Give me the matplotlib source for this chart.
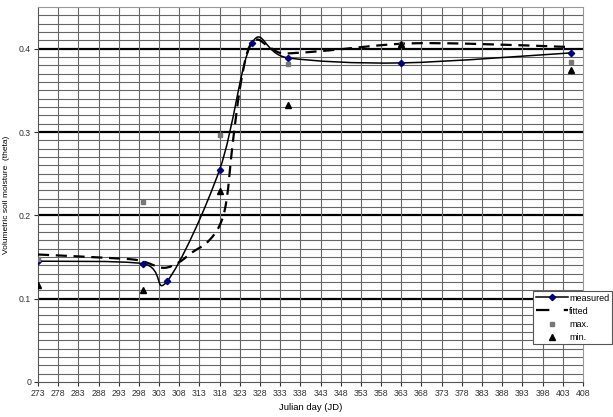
import matplotlib as mpl
mpl.use('Agg')
import matplotlib.pyplot as plt
import numpy as np
from matplotlib.path import Path
from matplotlib.patches import PathPatch
from matplotlib.lines import Line2D

plt.rcParams['font.family'] = 'Liberation Sans'
plt.rcParams.update({'font.size': 6})

# measured soil moisture
meas_day = [273, 299, 305, 318, 326, 335, 363, 405]
meas_val = [0.145, 0.142, 0.121, 0.255, 0.407, 0.389, 0.383, 0.395]

# max / min of measurements
max_day = [273, 299, 318, 335, 363, 405]
max_val = [0.148, 0.216, 0.296, 0.382, 0.406, 0.384]
min_day = [273, 299, 318, 335, 363, 405]
min_val = [0.116, 0.111, 0.229, 0.332, 0.406, 0.374]

# fitted curve
fit_day = [273, 290, 298, 304, 308, 311, 315, 318, 319.7, 321.2, 323, 325, 327.2, 330, 333, 337, 345, 363, 380, 405]
fit_val = [0.153, 0.149, 0.146, 0.137, 0.144, 0.155, 0.168, 0.188, 0.218, 0.285, 0.352, 0.398, 0.411, 0.403, 0.395, 0.395, 0.398, 0.406, 0.406, 0.402]


def smooth_path(xs, ys):
    # Catmull-Rom through the points, drawn as cubic beziers
    pts = np.column_stack([xs, ys]).astype(float)
    n = len(pts)
    verts = [pts[0]]
    codes = [Path.MOVETO]
    for i in range(n - 1):
        p0 = pts[i - 1] if i > 0 else pts[i]
        p1 = pts[i]
        p2 = pts[i + 1]
        p3 = pts[i + 2] if i + 2 < n else pts[i + 1]
        c1 = p1 + (p2 - p0) / 6.0
        c2 = p2 - (p3 - p1) / 6.0
        verts += [c1, c2, p2]
        codes += [Path.CURVE4] * 3
    return Path(verts, codes)


fig = plt.figure(figsize=(6.13, 4.17), dpi=100)
ax = fig.add_axes([0.062, 0.084, 0.889, 0.899])
ax.set_xlim(273, 408)
ax.set_ylim(0, 0.45)

# grid
ax.set_xticks(np.arange(273, 409, 5))
ax.set_yticks([0, 0.1, 0.2, 0.3, 0.4])
ax.set_yticklabels(['0', '0.1', '0.2', '0.3', '0.4'])
for yv in np.arange(0.01, 0.45, 0.01):
    if abs(yv * 10 - round(yv * 10)) > 1e-6:
        ax.axhline(yv, color='#666666', lw=0.8, zorder=0)
for yv in [0.1, 0.2, 0.3, 0.4]:
    ax.axhline(yv, color='black', lw=1.6, zorder=0)
for xv in np.arange(278, 408, 5):
    ax.axvline(xv, color='#666666', lw=0.8, zorder=0)

for s in ['top', 'right']:
    ax.spines[s].set_color('#999999')
for s in ['left', 'bottom']:
    ax.spines[s].set_color('#555555')
ax.tick_params(length=3, width=0.8, colors='#333333', pad=2, labelsize=6.3)

ax.add_patch(PathPatch(smooth_path(fit_day, fit_val), fill=False, color='black',
                       lw=1.6, linestyle=(0, (5, 3)), zorder=3))
ax.add_patch(PathPatch(smooth_path(meas_day, meas_val), fill=False, color='black',
                       lw=1.1, zorder=4))
ax.plot(meas_day, meas_val, linestyle='none', marker='D', ms=3.2, color='#000080', zorder=5)
ax.plot(max_day, max_val, linestyle='none', marker='s', ms=3.5, color='#777777', zorder=5)
ax.plot(min_day, min_val, linestyle='none', marker='^', ms=5, color='black', zorder=5)

ax.set_xlabel('Julian day (JD)', fontsize=6.8, labelpad=4)
ax.set_ylabel('Volumetric soil moisture  (theta)', fontsize=6, labelpad=6)

handles = [
    Line2D([], [], color='black', lw=1.1, marker='D', ms=3.2, mfc='#000080', mec='#000080'),
    Line2D([], [], color='black', lw=1.6, linestyle=(0, (6, 6.5))),
    Line2D([], [], linestyle='none', marker='s', ms=3.5, color='#777777'),
    Line2D([], [], linestyle='none', marker='^', ms=5, color='black'),
]
leg = ax.legend(handles, ['measured', 'fitted', 'max.', 'min.'], loc='upper left',
                bbox_to_anchor=(0.908, 0.243), fancybox=False, framealpha=1,
                edgecolor='#555555', handlelength=3.6, handletextpad=0.1,
                borderpad=0.3, labelspacing=0.45, borderaxespad=0, fontsize=6.5)
leg.get_frame().set_linewidth(0.8)
leg.set_zorder(10)

plt.savefig('out.png', dpi=100)
